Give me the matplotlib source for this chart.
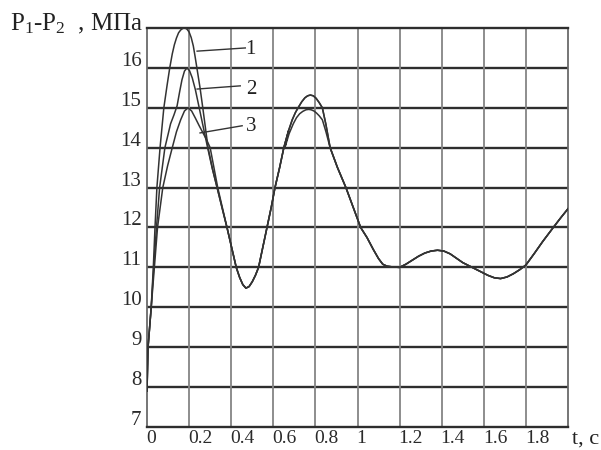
import matplotlib.pyplot as plt
from matplotlib.transforms import ScaledTranslation

# shared part of all three curves after the second peak
t_tail = [0.870, 0.905, 0.945, 0.980, 1.015, 1.045, 1.075, 1.100, 1.120, 1.140, 1.170, 1.200,
          1.230, 1.260, 1.290, 1.320, 1.350, 1.380, 1.410, 1.440, 1.470, 1.500, 1.530, 1.560,
          1.590, 1.620, 1.650, 1.680, 1.710, 1.740, 1.770, 1.800, 1.840, 1.880, 1.930, 1.965, 2.000]
p_tail = [14.00, 13.50, 13.00, 12.50, 12.00, 11.75, 11.45, 11.22, 11.08, 11.03, 11.01, 11.00,
          11.08, 11.18, 11.28, 11.36, 11.41, 11.43, 11.41, 11.34, 11.23, 11.12, 11.04, 10.96,
          10.88, 10.80, 10.74, 10.72, 10.76, 10.84, 10.94, 11.06, 11.35, 11.65, 12.00, 12.24, 12.47]

# curve 1 (outer) up to 0.87
t1 = [0.000, 0.005, 0.020, 0.030, 0.038, 0.047, 0.062, 0.080, 0.095, 0.108, 0.120, 0.130,
      0.140, 0.150, 0.160, 0.170, 0.181, 0.190, 0.200, 0.210, 0.220, 0.228, 0.237, 0.252,
      0.265, 0.290, 0.312, 0.333, 0.357, 0.380, 0.402, 0.424, 0.440, 0.455, 0.470, 0.485,
      0.500, 0.515, 0.530, 0.550, 0.570, 0.590, 0.608, 0.630, 0.650, 0.672, 0.690, 0.705,
      0.720, 0.735, 0.750, 0.763, 0.776, 0.790, 0.803, 0.818, 0.833, 0.850]
p1 = [7.90, 9.00, 10.00, 11.00, 12.00, 13.00, 14.00, 15.00, 15.55, 16.00, 16.35, 16.58,
      16.75, 16.88, 16.95, 16.99, 17.00, 16.97, 16.90, 16.76, 16.55, 16.30, 16.00, 15.50,
      15.00, 14.00, 13.45, 13.00, 12.48, 12.00, 11.50, 11.00, 10.75, 10.57, 10.48, 10.52,
      10.64, 10.80, 11.00, 11.50, 12.00, 12.50, 13.00, 13.50, 14.00, 14.42, 14.70, 14.88,
      15.02, 15.15, 15.25, 15.30, 15.32, 15.30, 15.24, 15.13, 15.00, 14.58]

# curve 2 up to 0.87
t2 = [0.000, 0.005, 0.020, 0.032, 0.045, 0.060, 0.085, 0.100, 0.112, 0.128, 0.143, 0.155,
      0.166, 0.178, 0.190, 0.202, 0.215, 0.230, 0.248, 0.268, 0.288, 0.310, 0.333] + t1[29:]
p2 = [7.90, 9.00, 10.00, 11.00, 12.00, 13.00, 14.00, 14.33, 14.60, 14.82, 15.05, 15.40,
      15.70, 15.92, 16.00, 15.93, 15.75, 15.45, 15.00, 14.50, 14.00, 13.48, 13.00] + p1[29:]

# curve 3 (inner) up to 0.87
t3 = [0.000, 0.005, 0.020, 0.035, 0.050, 0.075, 0.098, 0.120, 0.140, 0.160, 0.178, 0.195,
      0.212, 0.230, 0.248, 0.265, 0.283, 0.300, 0.318, 0.336] + t1[29:46] + \
     [0.655, 0.675, 0.695, 0.710, 0.725, 0.740, 0.755, 0.768, 0.780, 0.793, 0.805, 0.818,
      0.833, 0.850]
p3 = [7.90, 9.00, 10.00, 11.00, 12.00, 13.00, 13.55, 14.00, 14.40, 14.70, 14.92, 15.00,
      14.92, 14.74, 14.55, 14.38, 14.20, 14.00, 13.50, 13.00] + p1[29:46] + \
     [14.00, 14.35, 14.60, 14.75, 14.85, 14.91, 14.95, 14.96, 14.95, 14.92, 14.87, 14.80,
      14.70, 14.40]

x_ticks = [0, 0.2, 0.4, 0.6, 0.8, 1.0, 1.2, 1.4, 1.6, 1.8]
x_labels = ['0', '0.2', '0.4', '0.6', '0.8', '1', '1.2', '1.4', '1.6', '1.8']
y_ticks = [7, 8, 9, 10, 11, 12, 13, 14, 15, 16]
curve_names = ['1', '2', '3']
# leader lines: (t start, t end), (p start, p end), label position
leader_t = [(0.238, 0.467), (0.238, 0.443), (0.252, 0.452)]
leader_p = [(16.42, 16.50), (15.47, 15.55), (14.37, 14.55)]
name_pos = [(0.490, 16.45), (0.495, 15.47), (0.495, 14.52)]

plt.rcParams['font.family'] = ['Liberation Serif', 'DejaVu Serif']
plt.rcParams['mathtext.fontset'] = 'custom'
plt.rcParams['mathtext.rm'] = 'Liberation Serif'

fig = plt.figure(figsize=(6.01, 4.5), dpi=100)
ax = fig.add_axes([147/601, 23/450, 421/601, 399/450])
ax.set_xlim(0, 2)
ax.set_ylim(7, 17)

hcol = '#2e2e2e'
vcol = '#858585'
for y in range(8, 17):
    ax.axhline(y, color=hcol, lw=1.7, zorder=1)
for x in x_ticks[1:]:
    ax.axvline(x, color=vcol, lw=1.3, zorder=1)
for s in ['top', 'bottom']:
    ax.spines[s].set_color(hcol)
    ax.spines[s].set_linewidth(1.7)
for s in ['left', 'right']:
    ax.spines[s].set_color('#6a6a6a')
    ax.spines[s].set_linewidth(1.3)

lc = '#333333'
for t, p in [(t1, p1), (t2, p2), (t3, p3)]:
    ax.plot(t + t_tail, p + p_tail, color=lc, lw=1.1, zorder=3)

for (ta, tb), (pa, pb), (nx, ny), name in zip(leader_t, leader_p, name_pos, curve_names):
    ax.plot([ta, tb], [pa, pb], color=lc, lw=1.0, zorder=3)
    ax.text(nx, ny, name, ha='center', va='center', fontsize=15, color='#222222')

ax.set_xticks(x_ticks)
ax.set_xticklabels(x_labels)
ax.set_yticks(y_ticks)
ax.set_yticklabels([str(v) for v in y_ticks])
ax.tick_params(length=0, labelsize=15, labelcolor='#2a2a2a')
ax.tick_params(axis='y', pad=4)
ax.tick_params(axis='x', pad=2, labelsize=14)

up = ScaledTranslation(0, 9/100, fig.dpi_scale_trans)
for lab in ax.get_yticklabels():
    lab.set_transform(lab.get_transform() + up)
left = ScaledTranslation(-1/100, 0, fig.dpi_scale_trans)
for lab in ax.get_xticklabels():
    lab.set_ha('left')
    lab.set_transform(lab.get_transform() + left)

ax.annotate('t, c', xy=(1, 0), xycoords='axes fraction', xytext=(3, -2),
            textcoords='offset points', ha='left', va='top', fontsize=16, color='#222222')

fig.text(143/601, 1 - 30/450, r'$\mathregular{P_1}$-$\mathregular{P_2}$  , МПа',
         ha='right', va='baseline', fontsize=18, color='#222222')

plt.savefig('out.png', dpi=100)
